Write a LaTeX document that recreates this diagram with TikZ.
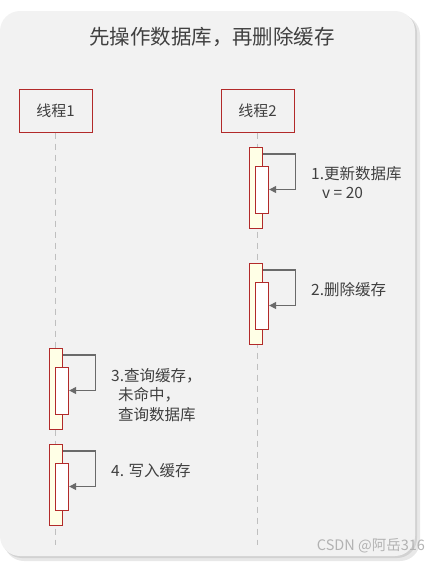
\documentclass[tikz,border=0pt]{standalone}
\usepackage{fontspec}
\setmainfont{Noto Sans CJK SC}
\usetikzlibrary{arrows.meta}
\definecolor{bgpanel}{HTML}{F2F2F2}
\definecolor{boxred}{HTML}{B22A2A}
\definecolor{actyellow}{HTML}{FFFFE6}
\definecolor{txtgray}{HTML}{404040}
\definecolor{arrgray}{HTML}{6A6A6A}
\tikzset{
  thread/.style={draw=boxred, line width=1pt, fill=bgpanel, minimum width=73pt,
    minimum height=43pt, inner sep=0pt, text=txtgray, font=\fontsize{15}{18}\selectfont},
  lifeline/.style={draw=gray!50, line width=0.8pt, dash pattern=on 6pt off 5pt},
  actouter/.style={draw=boxred, line width=1pt, fill=actyellow, minimum width=12.7pt,
    minimum height=81pt, inner sep=0pt},
  actinner/.style={draw=boxred, line width=1pt, fill=white, minimum width=12.7pt,
    minimum height=47pt, inner sep=0pt},
  msg/.style={draw=arrgray, line width=1.2pt, -{Triangle[length=7pt,width=7pt]}},
  steplabel/.style={anchor=west, inner sep=0pt, align=left, text=txtgray,
    font=\fontsize{15.5}{19.5}\selectfont}
}
\begin{document}
\begin{tikzpicture}[x=1pt,y=-1pt]
  \useasboundingbox (0,0) rectangle (442,563);
  % panel with shadow
  \fill[gray!18, rounded corners=20pt] (4,15) rectangle (420,561);
  \fill[gray!35, rounded corners=20pt] (2,13) rectangle (417,558);
  \fill[bgpanel, rounded corners=20pt] (0,11) rectangle (415,556);
  \node[text=txtgray, font=\fontsize{20.5}{24}\selectfont] (title) at (212,37) {先操作数据库，再删除缓存};
  % threads
  \node[thread] (t1) at (55.5,110.5) {线程1};
  \node[thread] (t2) at (257.5,110.5) {线程2};
  \draw[lifeline] (t1.south) -- (t1.south |- 0,545);
  \draw[lifeline] (t2.south) -- (t2.south |- 0,545);
  % activations
  \foreach \n/\x/\y in {1/256.3/188, 2/256.3/304, 3/56.3/389, 4/56.3/485} {
    \node[actouter] (a\n) at (\x,\y) {};
    \node[actinner] (b\n) at (\x+6,\y+1.5) {};
    \draw[msg] ([yshift=-7pt]a\n.north east) -| ([xshift=26pt]b\n.east) -- (b\n.east);
  }
  % labels
  \node[steplabel] (l1) at (311,182.5) {1.更新数据库\\\hspace{11pt}v = 20};
  \node[steplabel] (l2) at (311,290) {2.删除缓存};
  \node[steplabel] (l3) at (111,395) {3.查询缓存，\\\hspace{7pt}未命中，\\\hspace{7pt}查询数据库};
  \node[steplabel] (l4) at (111,471) {4. 写入缓存};
  \node[text=gray!60, font=\fontsize{14.5}{17}\selectfont] (mark) at (371,546) {CSDN @阿岳316};
\end{tikzpicture}
\end{document}
